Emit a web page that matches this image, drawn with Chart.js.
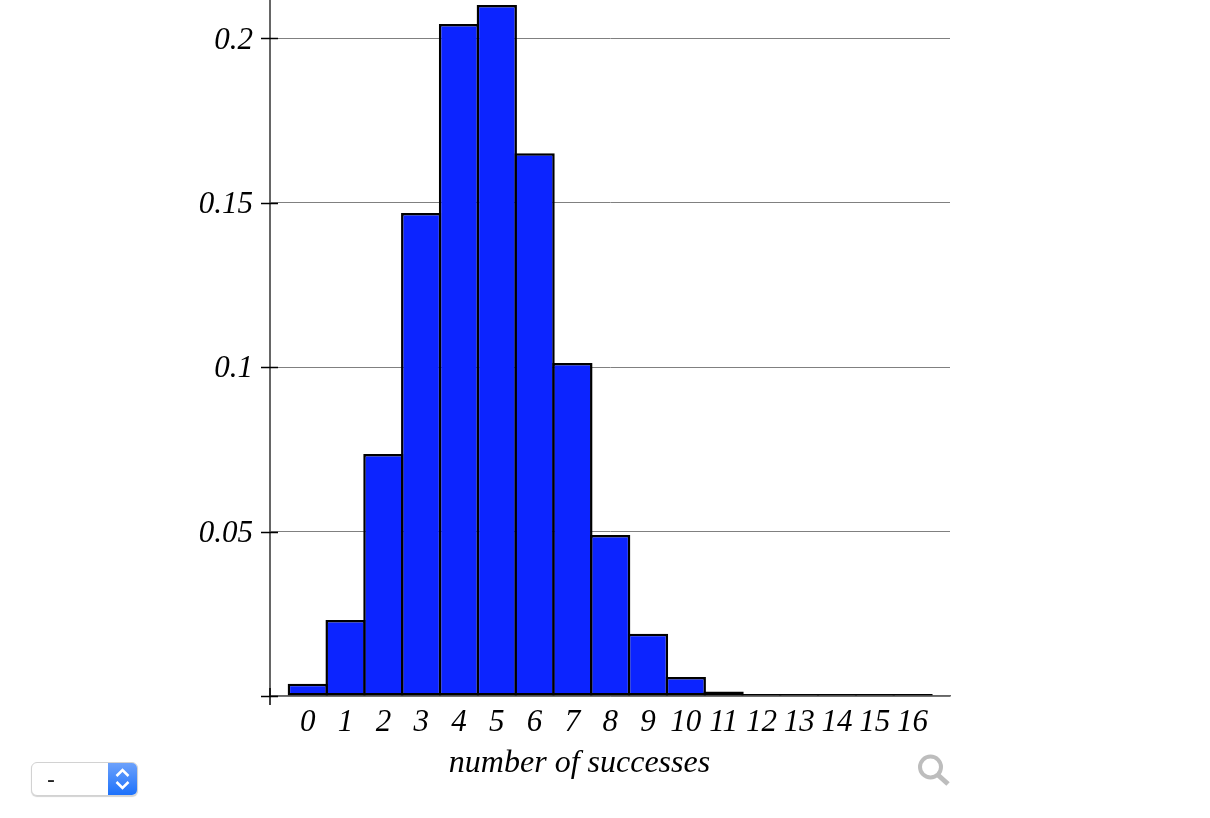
<!DOCTYPE html>
<html>
<head>
<meta charset="utf-8">
<script src="https://cdn.jsdelivr.net/npm/chart.js@4"></script>
<style>
  html, body { margin: 0; padding: 0; background: #fff; overflow: hidden; }
  #wrap { position: relative; width: 1210px; height: 818px; }
  canvas { display: block; }
  #picker {
    position: absolute; left: 31px; top: 762px; width: 105px; height: 32px;
    border: 1px solid #d2d2d2; border-radius: 6px; background: #fff;
    box-shadow: 0 1px 1px rgba(0,0,0,0.18); box-sizing: content-box;
    font: 24px "Liberation Sans", sans-serif; color: #222; overflow: hidden;
  }
  #picker span { position: absolute; left: 15px; top: 2px; }
  #picker div {
    position: absolute; right: 0; top: -1px; width: 29px; height: 34px;
    background: linear-gradient(#6fa3fb, #1a70fb);
  }
  #picker svg { position: absolute; left: 7px; top: 5px; }
  #lens { position: absolute; left: 916px; top: 752px; }
</style>
</head>
<body>
<div id="wrap">
  <canvas id="chart" width="1210" height="818"></canvas>
  <div id="picker"><span>-</span><div>
    <svg width="15" height="25" fill="none" stroke="#fff" stroke-width="2.5"><path d="M1.5 9 L7.5 3 L13.5 9 M1.5 15 L7.5 21 L13.5 15"/></svg>
  </div></div>
  <svg id="lens" width="36" height="36" fill="none" stroke="#bdbdbd"><circle cx="14.5" cy="15" r="10.5" stroke-width="4"/><path d="M22 23 L32 32" stroke-width="5"/></svg>
</div>
<script>
const categories = [0, 1, 2, 3, 4, 5, 6, 7, 8, 9, 10, 11, 12, 13, 14, 15, 16];
const probabilities = [0.0037, 0.0231, 0.0736, 0.1469, 0.2044, 0.2102, 0.1651, 0.1013, 0.049, 0.0189, 0.0058, 0.0014, 0.0002, 0.00005, 0, 0, 0];
const yTickValues = [0, 0.05, 0.1, 0.15, 0.2];
const yTickLabels = ['', '0.05', '0.1', '0.15', '0.2'];
const xTitle = 'number of successes';

const tickFont = { family: '"Liberation Serif", serif', style: 'italic', size: 31 };

// the ticks cross the axis lines, chart.js only draws them on one side
const crossTicks = {
  id: 'crossTicks',
  afterDraw(chart) {
    const { ctx, scales: { x, y } } = chart;
    const x0 = x.left, y0 = y.bottom;
    ctx.save();
    ctx.strokeStyle = '#000';
    ctx.lineWidth = 1.5;
    yTickValues.forEach(v => {
      const py = Math.round(y.getPixelForValue(v)) + 0.5;
      ctx.beginPath();
      ctx.moveTo(x0 - 9, py);
      ctx.lineTo(x0 + 8, py);
      ctx.stroke();
    });
    ctx.beginPath();
    ctx.moveTo(x0, y0 - 8);
    ctx.lineTo(x0, y0 + 9);
    ctx.stroke();
    // axis title sits left of the axis centre in this plot
    ctx.fillStyle = '#000';
    ctx.font = 'italic 32px "Liberation Serif", serif';
    ctx.textAlign = 'center';
    ctx.textBaseline = 'middle';
    ctx.fillText(xTitle, x0 + 309.5, 764);
    ctx.restore();
  }
};

new Chart(document.getElementById('chart').getContext('2d'), {
  type: 'bar',
  data: {
    datasets: [{
      data: categories.map((c, i) => ({ x: c, y: probabilities[i] })),
      backgroundColor: '#0c24ff',
      borderColor: '#000',
      borderWidth: 2.5,
      borderSkipped: false,
      minBarLength: 2,
      barPercentage: 1.066,
      categoryPercentage: 1
    }]
  },
  options: {
    responsive: false,
    animation: false,
    devicePixelRatio: 1,
    layout: { padding: { right: 260 } },
    plugins: { legend: { display: false }, tooltip: { enabled: false } },
    scales: {
      x: {
        type: 'linear',
        offset: false,
        min: -1,
        max: 16.99,
        afterBuildTicks: s => { s.ticks = categories.map(v => ({ value: v })); },
        afterFit: s => { s.height = 122; s.paddingLeft = 0; s.paddingRight = 0; },
        grid: { display: false, drawTicks: false },
        border: { color: '#666', width: 1.5 },
        ticks: {
          color: '#000', font: tickFont, padding: 8, maxRotation: 0, autoSkip: false,
          callback: v => String(v)
        }
      },
      y: {
        min: 0,
        max: 0.2117,
        afterBuildTicks: s => { s.ticks = yTickValues.map(v => ({ value: v })); },
        afterFit: s => { s.width = 270; s.paddingTop = 0; s.paddingBottom = 0; },
        grid: { color: '#808080', lineWidth: 1, drawTicks: false },
        border: { color: '#666', width: 2 },
        ticks: {
          color: '#000', font: tickFont, padding: 17, labelOffset: 2, autoSkip: false,
          callback: (v, i) => yTickLabels[i]
        }
      }
    }
  },
  plugins: [crossTicks]
});
</script>
</body>
</html>
